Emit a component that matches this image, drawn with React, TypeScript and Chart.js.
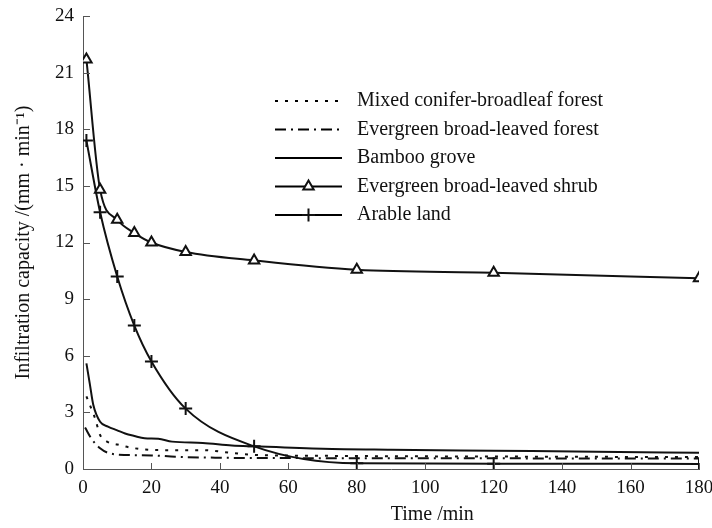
import { useEffect, useRef } from 'react';
import { Chart, registerables } from 'chart.js';

Chart.register(...registerables);

const xTickValues = [0, 20, 40, 60, 80, 100, 120, 140, 160, 180];
const yTickValues = [0, 3, 6, 9, 12, 15, 18, 21, 24];

const xTitle = 'Time /min';
const yTitle = 'Infiltration capacity /(mm · min⁻¹)';

const seriesNames = [
  'Mixed conifer-broadleaf forest',
  'Evergreen broad-leaved forest',
  'Bamboo grove',
  'Evergreen broad-leaved shrub',
  'Arable land',
];

const mixedTime = [1, 2.2, 3.5, 5, 7, 10, 15, 22, 35, 43.5, 50, 70, 100, 140, 180];
const mixedValues = [3.85, 3.3, 2.7, 1.8, 1.45, 1.3, 1.1, 1.0, 1.0, 0.85, 0.75, 0.7, 0.67, 0.65, 0.63];

const forestTime = [0.6, 2.5, 5, 7.3, 13, 20, 27, 38.6, 56, 100, 140, 180];
const forestValues = [2.2, 1.6, 1.1, 0.86, 0.74, 0.72, 0.65, 0.6, 0.58, 0.57, 0.56, 0.55];

const bambooTime = [1, 2, 3, 5, 7.3, 10, 12.3, 15, 18, 22, 26, 35, 43.5, 50, 70, 90, 120, 150, 180];
const bambooValues = [5.6, 4.5, 3.4, 2.5, 2.25, 2.05, 1.88, 1.75, 1.63, 1.6, 1.45, 1.38, 1.25, 1.2, 1.07, 1.02, 0.97, 0.92, 0.86];

const shrubTime = [1, 5, 10, 15, 20, 30, 50, 80, 120, 180];
const shrubValues = [21.7, 14.8, 13.2, 12.5, 12.0, 11.5, 11.05, 10.55, 10.4, 10.1];

const arableTime = [1, 5, 10, 15, 20, 30, 50, 80, 120, 180];
const arableValues = [17.4, 13.6, 10.2, 7.6, 5.7, 3.2, 1.2, 0.3, 0.28, 0.27];

const toXY = (xs: number[], ys: number[]) => xs.map((x, i) => ({ x, y: ys[i] }));

const FONT = '"Liberation Serif", "Times New Roman", serif';

const inwardTicks = {
  id: 'inwardTicks',
  afterDraw(chart: any) {
    const { ctx, chartArea, scales } = chart;
    ctx.save();
    ctx.strokeStyle = '#555';
    ctx.lineWidth = 1;
    ctx.beginPath();
    scales.x.ticks.forEach((t: any) => {
      const px = Math.round(scales.x.getPixelForValue(t.value)) + 0.5;
      ctx.moveTo(px, chartArea.bottom);
      ctx.lineTo(px, chartArea.bottom - 6);
    });
    scales.y.ticks.forEach((t: any) => {
      const py = Math.round(scales.y.getPixelForValue(t.value)) + 0.5;
      ctx.moveTo(chartArea.left, py);
      ctx.lineTo(chartArea.left + 7, py);
    });
    ctx.stroke();
    // x-axis title (placed right of centre as in the original figure)
    ctx.fillStyle = '#111';
    ctx.font = `20px ${FONT}`;
    ctx.textAlign = 'center';
    ctx.textBaseline = 'middle';
    ctx.fillText(xTitle, chartArea.left + (chartArea.right - chartArea.left) * 0.567, 515);
    ctx.restore();
  },
};

function drawMarker(ctx: CanvasRenderingContext2D, style: string, r: number, x: number, y: number) {
  ctx.save();
  ctx.setLineDash([]);
  ctx.lineWidth = 2;
  ctx.strokeStyle = '#111';
  ctx.fillStyle = '#fff';
  ctx.beginPath();
  if (style === 'triangle') {
    let rad = 0;
    ctx.moveTo(x + Math.sin(rad) * r, y - Math.cos(rad) * r);
    rad += (2 * Math.PI) / 3;
    ctx.lineTo(x + Math.sin(rad) * r, y - Math.cos(rad) * r);
    rad += (2 * Math.PI) / 3;
    ctx.lineTo(x + Math.sin(rad) * r, y - Math.cos(rad) * r);
    ctx.closePath();
    ctx.fill();
    ctx.stroke();
  } else if (style === 'cross') {
    ctx.moveTo(x, y - r);
    ctx.lineTo(x, y + r);
    ctx.moveTo(x - r, y);
    ctx.lineTo(x + r, y);
    ctx.stroke();
  }
  ctx.restore();
}

const customLegend = {
  id: 'customLegend',
  afterDatasetsDraw(chart: any) {
    const { ctx } = chart;
    const x0 = 275;
    const x1 = 342;
    const textX = 357;
    const y0 = 101;
    const dy = 28.5;
    ctx.save();
    chart.data.datasets.forEach((ds: any, i: number) => {
      const y = y0 + i * dy;
      ctx.strokeStyle = '#000';
      ctx.lineWidth = 1.8;
      ctx.setLineDash(ds.borderDash || []);
      ctx.beginPath();
      ctx.moveTo(x0, y);
      ctx.lineTo(x1, y);
      ctx.stroke();
      ctx.setLineDash([]);
      if (ds.pointRadius > 0) {
        drawMarker(ctx, ds.pointStyle, ds.pointRadius, (x0 + x1) / 2, y);
      }
      ctx.fillStyle = '#111';
      ctx.font = `20px ${FONT}`;
      ctx.textBaseline = 'middle';
      ctx.textAlign = 'left';
      ctx.fillText(ds.label, textX, y);
    });
    ctx.restore();
  },
};

export default function App() {
  const ref = useRef<HTMLCanvasElement | null>(null);

  useEffect(() => {
    if (!ref.current) return;
    const common = {
      borderColor: '#111',
      borderWidth: 2,
      fill: false,
      cubicInterpolationMode: 'monotone' as const,
      pointBackgroundColor: '#fff',
      pointBorderColor: '#111',
    };
    const chart = new Chart(ref.current, {
      type: 'line',
      data: {
        datasets: [
          { ...common, label: seriesNames[0], data: toXY(mixedTime, mixedValues), borderDash: [3, 7], pointRadius: 0 },
          { ...common, label: seriesNames[1], data: toXY(forestTime, forestValues), borderDash: [11, 5, 2, 5], pointRadius: 0 },
          { ...common, label: seriesNames[2], data: toXY(bambooTime, bambooValues), pointRadius: 0 },
          { ...common, label: seriesNames[3], data: toXY(shrubTime, shrubValues), pointStyle: 'triangle', pointRadius: 6, pointBorderWidth: 2 },
          { ...common, label: seriesNames[4], data: toXY(arableTime, arableValues), pointStyle: 'cross', pointRadius: 6.5, pointBorderWidth: 2 },
        ] as any,
      },
      options: {
        animation: false,
        responsive: true,
        maintainAspectRatio: false,
        layout: { padding: { top: 16, right: 13, left: 0, bottom: 0 } },
        plugins: { legend: { display: false }, tooltip: { enabled: false } },
        scales: {
          x: {
            type: 'linear',
            min: 0,
            max: 180,
            afterBuildTicks: (s: any) => {
              s.ticks = xTickValues.map((v) => ({ value: v }));
            },
            afterFit: (s: any) => {
              s.height = 59;
              s.paddingLeft = 0;
              s.paddingRight = 0;
            },
            grid: { display: true, drawOnChartArea: false, drawTicks: false },
            border: { display: true, color: '#555', width: 1 },
            ticks: { color: '#111', font: { family: FONT, size: 19 }, padding: 8, maxRotation: 0 },
            title: { display: false, text: xTitle },
          },
          y: {
            type: 'linear',
            min: 0,
            max: 24,
            afterBuildTicks: (s: any) => {
              s.ticks = yTickValues.map((v) => ({ value: v }));
            },
            afterFit: (s: any) => {
              s.width = 83;
              s.paddingTop = 0;
              s.paddingBottom = 0;
            },
            grid: { display: true, drawOnChartArea: false, drawTicks: false },
            border: { display: true, color: '#555', width: 1 },
            ticks: { color: '#111', font: { family: FONT, size: 19 }, padding: 9 },
            title: {
              display: true,
              text: yTitle,
              color: '#111',
              font: { family: FONT, size: 20 },
              padding: { top: 12, bottom: 0 },
            },
          },
        },
      },
      plugins: [inwardTicks, customLegend],
    });
    return () => chart.destroy();
  }, []);

  return (
    <div style={{ position: 'absolute', left: 0, top: 0, width: 712, height: 528, background: '#fff' }}>
      <canvas ref={ref} />
    </div>
  );
}
